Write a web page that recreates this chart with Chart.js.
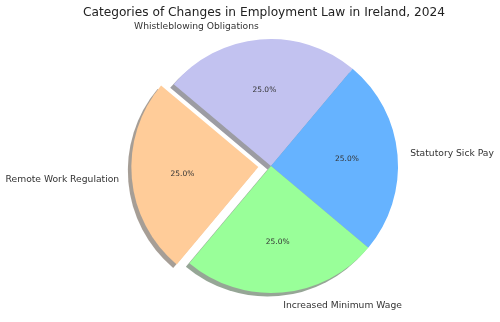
<!DOCTYPE html>
<html>
<head>
<meta charset="utf-8">
<script src="https://cdn.jsdelivr.net/npm/chart.js@4"></script>
<style>
    body { margin: 0; background: #fff; }
    #wrap { width: 500px; height: 322px; }
</style>
</head>
<body>
<div id="wrap"><canvas id="pie" width="500" height="322"></canvas></div>
<script>
// clockwise order, starting from the upper-left boundary
const categories = ["Whistleblowing Obligations", "Statutory Sick Pay", "Increased Minimum Wage", "Remote Work Regulation"];
const shares = [25, 25, 25, 25];
const colors = ["#c2c2f0", "#66b3ff", "#99ff99", "#ffcc99"];
const explode = [0, 0, 0, 0.1];
const chartTitle = "Categories of Changes in Employment Law in Ireland, 2024";

const R = 127;
const FONT = "'DejaVu Sans', sans-serif";

function shadowColor(hex) {
    // matplotlib shadow: 0.3 * face colour at alpha 0.5
    let n = parseInt(hex.slice(1), 16);
    let r = (n >> 16) & 255, g = (n >> 8) & 255, b = n & 255;
    return `rgba(${Math.round(r * 0.3)}, ${Math.round(g * 0.3)}, ${Math.round(b * 0.3)}, 0.5)`;
}

const pieText = {
    id: "pieText",
    beforeDatasetsDraw(chart) {
        let ctx = chart.ctx;
        let arcs = chart.getDatasetMeta(0).data;
        arcs.forEach((arc, i) => {
            let orig = arc.options.backgroundColor;
            arc.options.backgroundColor = shadowColor(colors[i]);
            ctx.save();
            ctx.translate(-3.5, 3.5);
            arc.draw(ctx);
            ctx.restore();
            arc.options.backgroundColor = orig;
        });
    },
    afterDatasetsDraw(chart) {
        let ctx = chart.ctx;
        let arcs = chart.getDatasetMeta(0).data;
        let total = shares.reduce((a, b) => a + b, 0);
        ctx.save();
        ctx.textBaseline = "middle";
        arcs.forEach((arc, i) => {
            let mid = (arc.startAngle + arc.endAngle) / 2;
            let ex = explode[i] * R;
            let cx = arc.x + Math.cos(mid) * ex;
            let cy = arc.y + Math.sin(mid) * ex;
            // category label
            let lx = cx + Math.cos(mid) * R * 1.1;
            let ly = cy + Math.sin(mid) * R * 1.1;
            ctx.font = "9.2px " + FONT;
            ctx.fillStyle = "#333333";
            ctx.textAlign = (lx - arc.x) > 0 ? "left" : "right";
            ctx.fillText(categories[i], lx, ly);
            // percentage
            let px = cx + Math.cos(mid) * R * 0.6;
            let py = cy + Math.sin(mid) * R * 0.6;
            ctx.font = "7.5px " + FONT;
            ctx.textAlign = "center";
            ctx.fillText((shares[i] / total * 100).toFixed(1) + "%", px, py);
        });
        ctx.font = "12.2px " + FONT;
        ctx.textAlign = "center";
        ctx.fillStyle = "#222222";
        ctx.fillText(chartTitle, 264, 13);
        ctx.restore();
    }
};

new Chart(document.getElementById("pie"), {
    type: "pie",
    data: {
        labels: categories,
        datasets: [{
            data: shares,
            backgroundColor: colors,
            borderWidth: 0,
            offset: explode.map(e => e * R * 4)
        }]
    },
    options: {
        responsive: false,
        animation: false,
        events: [],
        rotation: -50,
        radius: R,
        layout: { padding: { left: 42, right: 0, top: 10, bottom: 0 } },
        plugins: {
            legend: { display: false },
            title: { display: false },
            tooltip: { enabled: false }
        }
    },
    plugins: [pieText]
});
</script>
</body>
</html>
